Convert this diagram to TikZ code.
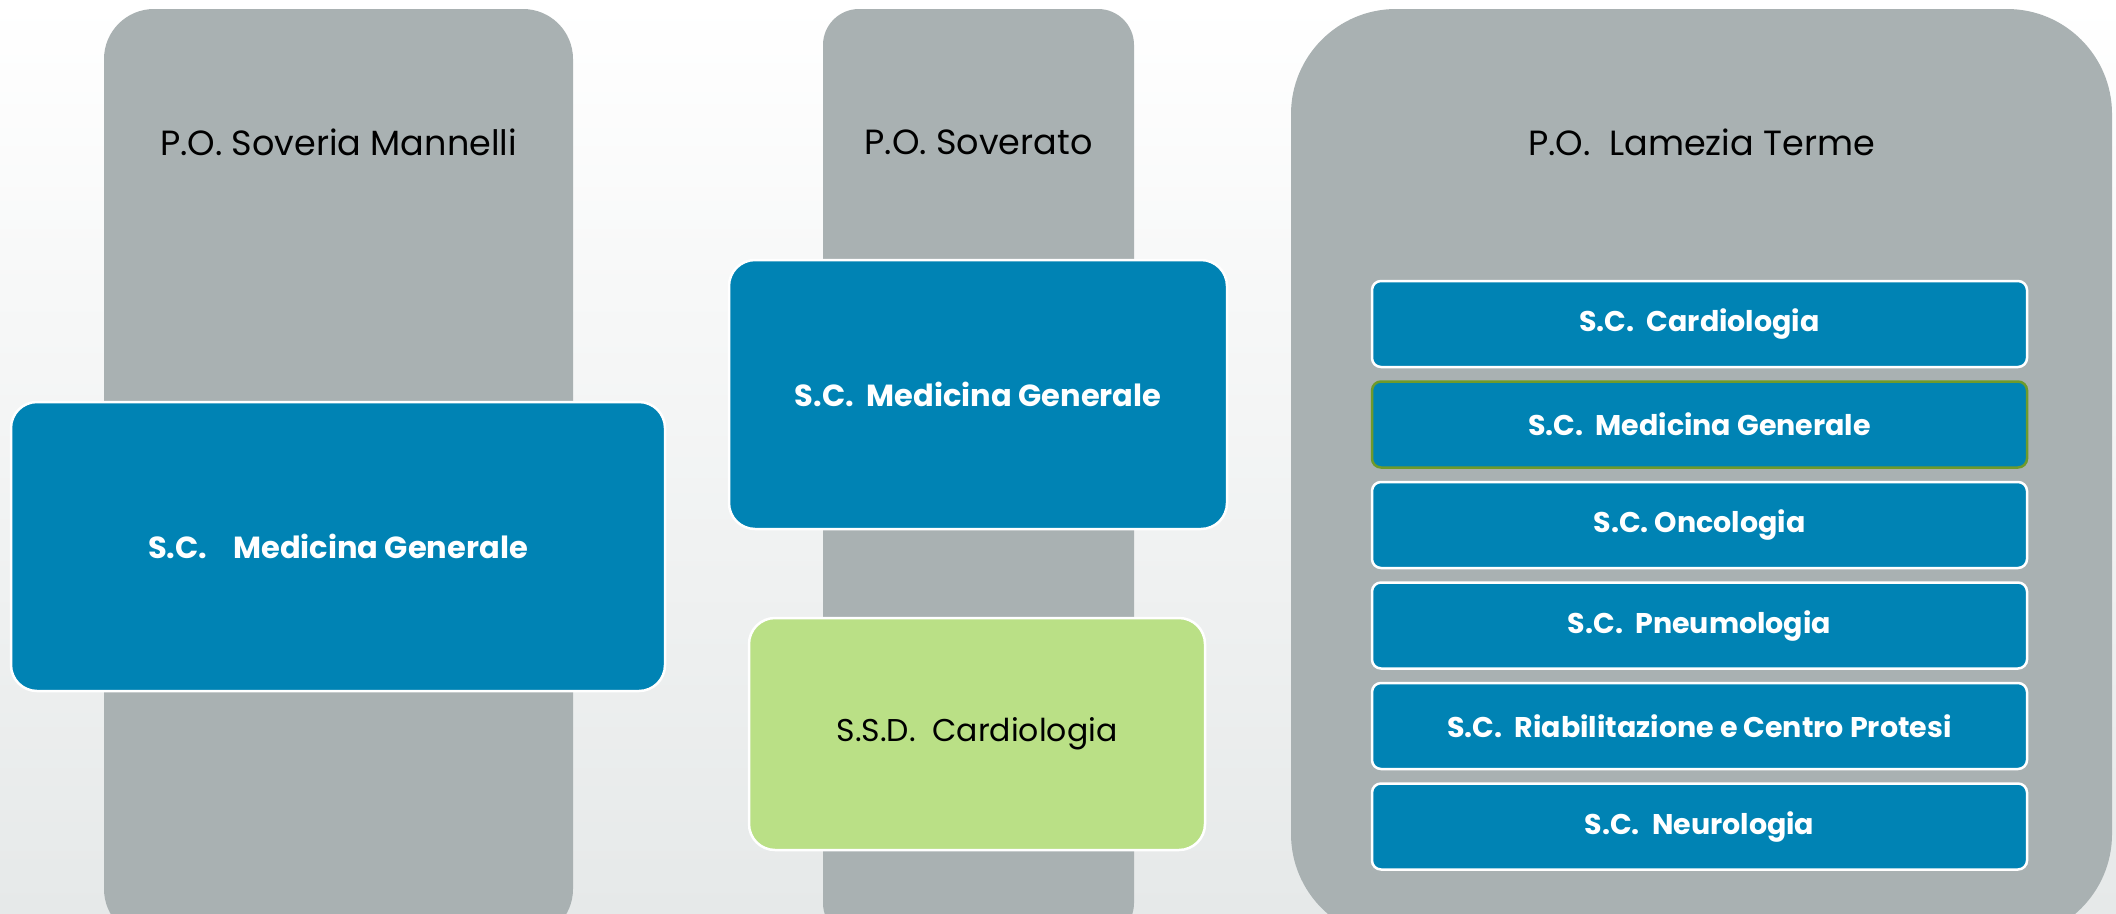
\documentclass[tikz,border=0pt]{standalone}
\usepackage{fontspec}
\setmainfont{Poppins}
\usetikzlibrary{positioning}

\definecolor{pogray}{HTML}{A9B1B2}
\definecolor{scblue}{HTML}{0083B4}
\definecolor{ssdgreen}{HTML}{BAE086}
\definecolor{olive}{HTML}{6E9A2C}
\definecolor{bgbottom}{HTML}{E6E9E9}

\begin{document}
\begin{tikzpicture}[x=1pt, y=-1pt, node distance=12pt,
    column/.style={rectangle, fill=pogray, draw=none, rounded corners=#1, inner sep=0pt},
    potitle/.style={font=\fontsize{35}{40}\selectfont, text=black},
    unit/.style={rectangle, fill=scblue, draw=white, line width=2.5pt, rounded corners=26pt,
      text=white, font=\bfseries\fontsize{30.5}{36}\selectfont},
    ssd/.style={unit, fill=ssdgreen, text=black, font=\fontsize{31.5}{36}\selectfont},
    row/.style={unit, rounded corners=9pt, minimum width=655pt, minimum height=86pt,
      font=\bfseries\fontsize{28.5}{34}\selectfont}]

  % background
  \useasboundingbox (0,0) rectangle (2116,913);
  \shade[top color=white, bottom color=bgbottom] (0,0) rectangle (2116,913);

  % presidi
  \node[column=50pt, minimum width=469pt, minimum height=930pt] (soveria) at (338.5,474) {};
  \node[column=36pt, minimum width=311pt, minimum height=930pt] (soverato) at (978.5,474) {};
  \node[column=105pt, minimum width=821pt, minimum height=930pt] (lamezia) at (1701.5,474) {};

  \node[potitle] (soveriaT) at (338.5,142) {P.O. Soveria Mannelli};
  \node[potitle] (soveratoT) at (978.5,142) {P.O. Soverato};
  \node[potitle] (lameziaT) at (1701.5,142) {P.O.~~Lamezia Terme};

  % P.O. Soveria Mannelli
  \node[unit, minimum width=654pt, minimum height=289pt] (sovMed) at (338,546.5)
    {S.C.~~~~Medicina Generale};

  % P.O. Soverato
  \node[unit, minimum width=498pt, minimum height=269pt] (sotMed) at (978,394.5)
    {S.C.~~Medicina Generale};
  \node[ssd, minimum width=456pt, minimum height=232pt] (sotCard) at (977,734)
    {S.S.D.~~Cardiologia};

  % P.O. Lamezia Terme
  \node[row] (lamCard) at (1699.5,324) {S.C.~~Cardiologia};
  \node[row, draw=olive, below=of lamCard] (lamMed) {S.C.~~Medicina Generale};
  \node[row, below=of lamMed] (lamOnc) {S.C. Oncologia};
  \node[row, below=of lamOnc] (lamPneu) {S.C.~~Pneumologia};
  \node[row, below=of lamPneu] (lamRiab) {S.C.~~Riabilitazione e Centro Protesi};
  \node[row, below=of lamRiab] (lamNeur) {S.C.~~Neurologia};
\end{tikzpicture}
\end{document}
